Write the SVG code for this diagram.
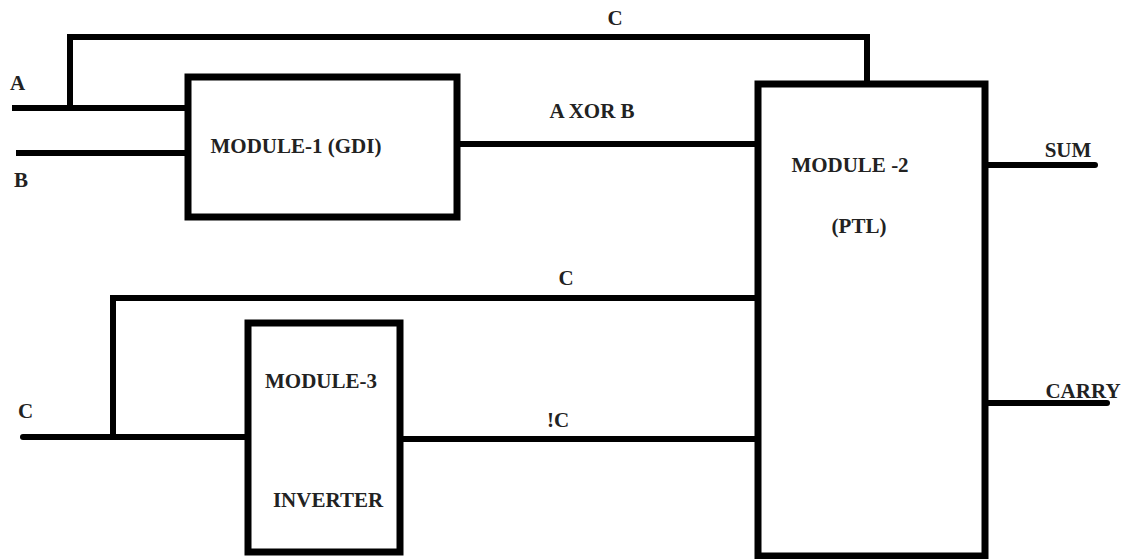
<svg xmlns="http://www.w3.org/2000/svg" width="1128" height="559" viewBox="0 0 1128 559">
<style>
.box{fill:#fff;stroke:#000;stroke-width:7}
.w{fill:none;stroke:#000;stroke-width:6;stroke-linejoin:miter}
.t{font-weight:bold;font-size:21px;fill:#222}
</style>
<rect width="1128" height="559" fill="#fff"/>
<g id="connectors" font-family="Liberation Serif, Times New Roman, serif">
<polyline class="w" points="12,108 188,108"/>
<polyline class="w" points="70,108 70,37 867,37 867,85"/>
<polyline class="w" points="16,153 188,153"/>
<polyline class="w" points="457,144 758,144"/>
<polyline class="w" points="985,165 1095,165" stroke-linecap="round"/>
<polyline class="w" points="985,403 1107,403" stroke-linecap="round"/>
<polyline class="w" points="23,437 248,437" stroke-linecap="round"/>
<polyline class="w" points="113,437 113,298 758,298"/>
<polyline class="w" points="400,439 758,439"/>
<text class="t" x="615" y="25" text-anchor="middle">C</text>
<text class="t" x="10" y="90">A</text>
<text class="t" x="14" y="187">B</text>
<text class="t" x="592" y="118" text-anchor="middle">A XOR B</text>
<text class="t" x="1068" y="157" text-anchor="middle">SUM</text>
<text class="t" x="1083" y="398" text-anchor="middle">CARRY</text>
<text class="t" x="18" y="418">C</text>
<text class="t" x="566" y="285" text-anchor="middle">C</text>
<text class="t" x="558" y="427" text-anchor="middle">!C</text>
</g>
<g id="module1" font-family="Liberation Serif, Times New Roman, serif">
<rect class="box" x="188" y="77" width="269" height="140"/>
<text class="t" x="296" y="153" text-anchor="middle">MODULE-1 (GDI)</text>
</g>
<g id="module2" font-family="Liberation Serif, Times New Roman, serif">
<rect class="box" x="758" y="84" width="227" height="472"/>
<text class="t" x="850" y="172" text-anchor="middle">MODULE -2</text>
<text class="t" x="859" y="233" text-anchor="middle">(PTL)</text>
</g>
<g id="module3" font-family="Liberation Serif, Times New Roman, serif">
<rect class="box" x="248" y="323" width="152" height="229"/>
<text class="t" x="321" y="388" text-anchor="middle">MODULE-3</text>
<text class="t" x="328" y="507" text-anchor="middle">INVERTER</text>
</g>
</svg>
